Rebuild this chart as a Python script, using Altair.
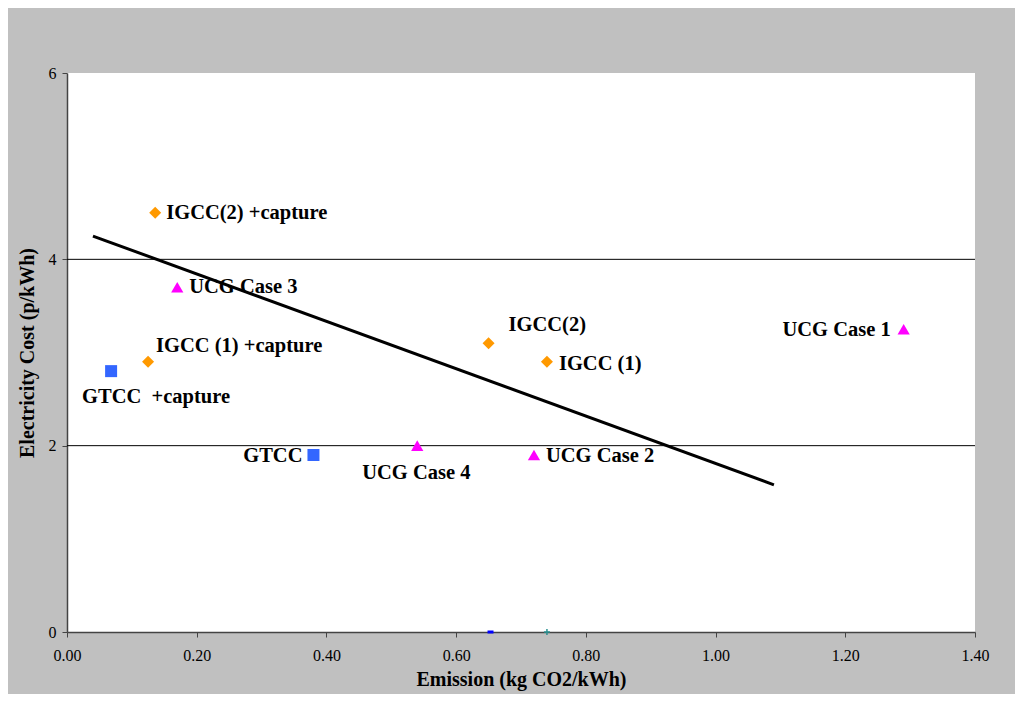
import altair as alt
import pandas as pd

# ---- data ----
names = ["GTCC\u00a0 +capture", "GTCC", "IGCC (1) +capture", "IGCC(2) +capture",
         "IGCC(2)", "IGCC (1)", "UCG Case 3", "UCG Case 4", "UCG Case 2", "UCG Case 1"]
emission = [0.068, 0.38, 0.125, 0.136, 0.65, 0.74, 0.17, 0.54, 0.72, 1.29]
cost = [2.8, 1.9, 2.9, 4.5, 3.1, 2.9, 3.7, 2.0, 1.9, 3.25]
tech = ["GTCC", "GTCC", "IGCC", "IGCC", "IGCC", "IGCC", "UCG", "UCG", "UCG", "UCG"]

trend_x = [0.04, 1.09]
trend_y = [4.25, 1.58]

zero_x = [0.653, 0.74]
zero_y = [0, 0]
zero_kind = ["dash", "plus"]

grid_y = [2, 4]
x_ticks = [0.0, 0.2, 0.4, 0.6, 0.8, 1.0, 1.2, 1.4]
y_ticks = [0, 2, 4, 6]

FONT = "Liberation Serif"

pts = pd.DataFrame({"name": names, "emission": emission, "cost": cost, "tech": tech})
trend = pd.DataFrame({"emission": trend_x, "cost": trend_y})
zeros = pd.DataFrame({"emission": zero_x, "cost": zero_y, "kind": zero_kind})
grid = pd.DataFrame({"cost": grid_y})

xs = alt.Scale(domain=[0, 1.4], nice=False, zero=False)
ys = alt.Scale(domain=[0, 6], nice=False, zero=False)

X = alt.X("emission:Q", scale=xs,
          axis=alt.Axis(title="Emission (kg CO2/kWh)", values=x_ticks, format=".2f",
                        grid=False, labelPadding=10, titlePadding=6))
Y = alt.Y("cost:Q", scale=ys,
          axis=alt.Axis(title="Electricity Cost (p/kWh)", values=y_ticks, format="d",
                        grid=False, labelPadding=6, titlePadding=11))

grid_rules = alt.Chart(grid).mark_rule(color="black", strokeWidth=1).encode(y=Y)

styles = {
    "GTCC": ("square", "#3366ff", 144),
    "IGCC": ("diamond", "#ff9900", 144),
    "UCG": ("triangle-up", "#ff00ff", 150),
}
marker_layers = []
for t, (shp, col, sz) in styles.items():
    marker_layers.append(
        alt.Chart(pts).transform_filter(alt.datum.tech == t).mark_point(
            filled=True, opacity=1, strokeWidth=0, shape=shp, color=col, size=sz).encode(
            x=X, y=alt.Y("cost:Q", scale=ys)))

dash = alt.Chart(zeros).transform_filter(alt.datum.kind == "dash").mark_point(
    shape="M-1,-0.5H1V0.5H-1Z", filled=True, color="#0000ff", size=36, opacity=1,
    strokeWidth=0).encode(
    x=alt.X("emission:Q", scale=xs), y=alt.Y("cost:Q", scale=ys))
plus = alt.Chart(zeros).transform_filter(alt.datum.kind == "plus").mark_point(
    shape="M-1,0H1M0,-1V1", filled=False, color="#2a9090", size=36, opacity=1,
    strokeWidth=1.5).encode(
    x=alt.X("emission:Q", scale=xs), y=alt.Y("cost:Q", scale=ys))

# label placement (pixel offsets from marker)
label_pos = {
    "IGCC(2) +capture": (11, 0, "left"),
    "UCG Case 3": (12, 0, "left"),
    "IGCC (1) +capture": (8, -16, "left"),
    "GTCC\u00a0 +capture": (-29, 26, "left"),
    "IGCC(2)": (20, -18, "left"),
    "IGCC (1)": (12, 2, "left"),
    "GTCC": (-11, 1, "right"),
    "UCG Case 4": (-55, 27, "left"),
    "UCG Case 2": (12, 1, "left"),
    "UCG Case 1": (-13, 1, "right"),
}

labels = []
for nm, (dx, dy, al) in label_pos.items():
    labels.append(
        alt.Chart(pts).transform_filter(alt.datum.name == nm).mark_text(
            font=FONT, fontSize=20.5, fontWeight="bold", color="black",
            align=al, baseline="middle", dx=dx, dy=dy).encode(
            x=alt.X("emission:Q", scale=xs), y=alt.Y("cost:Q", scale=ys),
            text="name:N"))

line = alt.Chart(trend).mark_line(color="black", strokeWidth=3).encode(
    x=alt.X("emission:Q", scale=xs), y=alt.Y("cost:Q", scale=ys))

chart = alt.layer(grid_rules, *marker_layers, dash, plus, *labels, line).properties(
    width=908, height=559,
    autosize=alt.AutoSizeParams(type="none"),
    padding={"left": 59, "top": 65, "right": 40, "bottom": 62},
    background="#c0c0c0",
).configure_view(
    fill="white", stroke=None
).configure_axis(
    labelFont=FONT, labelFontSize=16, labelColor="black",
    titleFont=FONT, titleFontSize=20, titleFontWeight="bold", titleColor="black",
    domainColor="#444444", tickColor="#444444", tickSize=5, domainWidth=1.5,
    labelFlush=False, labelOverlap=False,
)

chart.save("out.html", embed_options={"renderer": "svg", "actions": False})
